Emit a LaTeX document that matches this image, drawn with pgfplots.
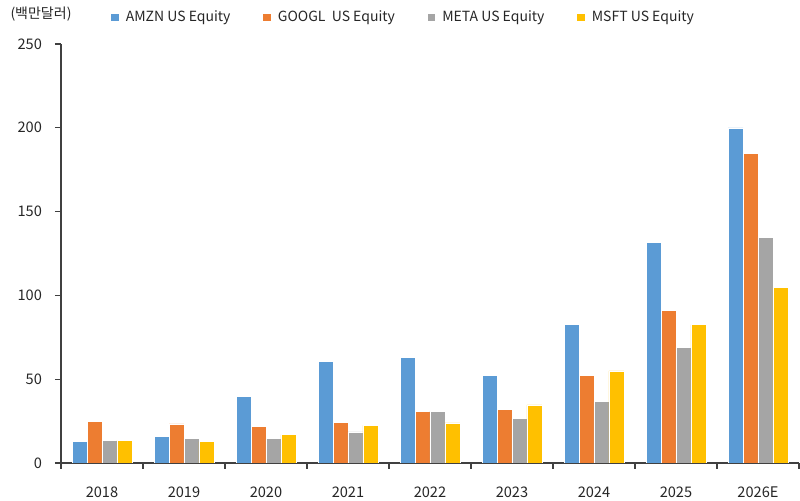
\documentclass[border=0pt]{standalone}
\usepackage{fontspec}
\setmainfont{Noto Sans CJK KR}
\usepackage{pgfplots}
\pgfplotsset{compat=1.18}
\definecolor{amzn}{HTML}{5B9BD5}
\definecolor{googl}{HTML}{ED7D31}
\definecolor{meta}{HTML}{A5A5A5}
\definecolor{msft}{HTML}{FFC000}
\definecolor{axc}{HTML}{404040}
\begin{document}
\begin{tikzpicture}
\useasboundingbox (-30.5pt,-19pt) rectangle (369.5pt,231.5pt);
\begin{axis}[
  at={(0pt,0pt)}, anchor=south west,
  scale only axis, width=369pt, height=209.5pt,
  ybar=0pt, bar width=0.1825,
  xmin=-0.5, xmax=8.5, ymin=0, ymax=250,
  axis lines*=left,
  axis line style={axc, line width=0.6pt},
  xtick={0,...,8},
  xticklabels={2018,2019,2020,2021,2022,2023,2024,2025,2026E},
  major x tick style={draw=none},
  minor xtick={-0.5,0.5,...,8.5},
  minor x tick style={axc, line width=0.6pt},
  minor tick length=3pt,
  ytick={0,50,...,250},
  major y tick style={axc, line width=0.6pt},
  major tick length=3pt,
  tick align=outside,
  tick label style={font=\fontsize{7.3}{9}\selectfont, text=black!85},
  xticklabel style={yshift=-5.5pt},
  yticklabel style={xshift=-3pt},
  /pgf/number format/assume math mode=true,
  legend columns=4,
  legend style={draw=none, fill=none, at={(0.465,1.062)}, anchor=center,
    font=\fontsize{7}{9}\selectfont, text=black!85,
    /tikz/every odd column/.append style={column sep=1.2pt},
    /tikz/every even column/.append style={column sep=14pt}},
  legend image code/.code={\fill[#1] (0pt,-1.6pt) rectangle (4.2pt,2.6pt);},
  every axis plot/.append style={draw=white, line width=0.3pt},
]
\addplot[fill=amzn] coordinates {(0,12.7) (1,16.1) (2,39.6) (3,60.7) (4,63.2) (5,52.1) (6,82.5) (7,131.7) (8,199.9)};
\addlegendentry{AMZN US Equity}
\addplot[fill=googl] coordinates {(0,24.6) (1,23.3) (2,21.9) (3,24.0) (4,31.0) (5,31.8) (6,52.1) (7,90.9) (8,184.8)};
\addlegendentry{GOOGL\ \ US Equity}
\addplot[fill=meta] coordinates {(0,13.5) (1,14.7) (2,14.7) (3,18.5) (4,31.0) (5,26.8) (6,36.8) (7,69.0) (8,134.7)};
\addlegendentry{META US Equity}
\addplot[fill=msft] coordinates {(0,13.5) (1,12.7) (2,16.9) (3,22.5) (4,23.9) (5,34.6) (6,54.9) (7,82.5) (8,104.8)};
\addlegendentry{MSFT US Equity}
\end{axis}
\node[font=\fontsize{7}{9}\selectfont, text=black!85] at (-10pt,224.5pt) {(백만달러)};
\end{tikzpicture}
\end{document}
